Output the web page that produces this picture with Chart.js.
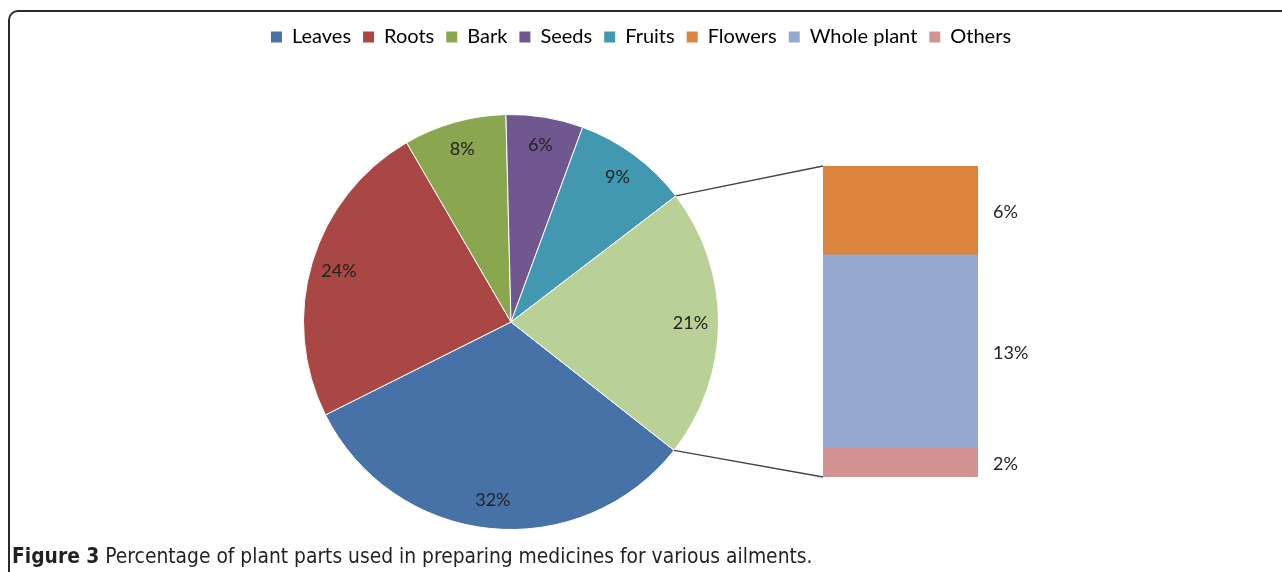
<!DOCTYPE html>
<html>
<head>
<meta charset="utf-8">
<script src="https://cdn.jsdelivr.net/npm/chart.js@4.4.1/dist/chart.umd.min.js"></script>
<style>
    html, body { margin: 0; padding: 0; background: #fff; }
    #wrap { position: relative; width: 1282px; height: 572px; overflow: hidden; }
    #frame {
        position: absolute; left: 8px; top: 10px; width: 1400px; height: 700px;
        border-left: 2px solid #2a2a2a; border-top: 2px solid #2a2a2a;
        border-top-left-radius: 10px;
    }
    canvas { position: absolute; left: 0; top: 0; }
    #caption {
        position: absolute; left: 12px; top: 544px;
        font-family: "Liberation Sans Narrow", "DejaVu Sans Condensed", sans-serif;
        font-size: 20.8px; color: #231f20; white-space: nowrap;
    }
    #caption b { font-weight: bold; }
</style>
</head>
<body>
<div id="wrap">
    <div id="frame"></div>
    <canvas id="pieChart" width="1282" height="572"></canvas>
    <canvas id="barChart" width="1282" height="572"></canvas>
    <div id="caption"><b>Figure 3</b> Percentage of plant parts used in preparing medicines for various ailments.</div>
</div>
<script>
// main pie
const pieLabels = ["Leaves", "Roots", "Bark", "Seeds", "Fruits", "Others (combined)"];
const pieValues = [32, 24, 8, 6, 9, 21];
const pieColors = ["#4672A8", "#A94744", "#8AA64E", "#71578F", "#4298B0", "#B9D097"];

// bar split of the combined slice (top to bottom)
const barLabels = ["Flowers", "Whole plant", "Others"];
const barValues = [6, 13, 2];
const barColors = ["#DC843D", "#95A9D0", "#D39393"];

const legendNames = ["Leaves", "Roots", "Bark", "Seeds", "Fruits", "Flowers", "Whole plant", "Others"];
const legendColors = [...pieColors.slice(0, 5), ...barColors];

const FONT = "Lato, 'Open Sans', sans-serif";

// put the pie where it sits in the figure (left of the bar)
const pieSpot = {
    id: "pieSpot",
    afterLayout(chart) {
        const a = chart.chartArea;
        a.left = 303; a.right = 719; a.top = 114; a.bottom = 530;
        a.width = a.right - a.left; a.height = a.bottom - a.top;
    },
};

const pieText = {
    id: "pieText",
    afterDatasetsDraw(chart) {
        const ctx = chart.ctx;
        const meta = chart.getDatasetMeta(0);
        ctx.save();
        ctx.font = "18px " + FONT;
        ctx.fillStyle = "#222";
        ctx.textAlign = "center";
        ctx.textBaseline = "middle";
        meta.data.forEach((arc, i) => {
            const p = arc.getProps(["x", "y", "startAngle", "endAngle", "outerRadius"], true);
            const mid = (p.startAngle + p.endAngle) / 2;
            const r = p.outerRadius * 0.865;
            ctx.fillText(pieValues[i] + "%", p.x + Math.cos(mid) * r, p.y + Math.sin(mid) * r);
        });
        ctx.restore();
    },
};

const pieChart = new Chart(document.getElementById("pieChart"), {
    type: "pie",
    data: {
        labels: pieLabels,
        datasets: [{
            data: pieValues,
            backgroundColor: pieColors,
            borderColor: "#fff",
            borderWidth: 1,
        }],
    },
    options: {
        responsive: false,
        animation: false,
        rotation: 128.2,
        layout: { padding: { top: 15 } },
        plugins: {
            tooltip: { enabled: false },
            legend: {
                display: true,
                position: "top",
                labels: {
                    font: { family: FONT, size: 20 },
                    color: "#222",
                    boxWidth: 11,
                    boxHeight: 11,
                    padding: 12,
                    generateLabels: () => legendNames.map((n, i) => ({
                        text: n,
                        fillStyle: legendColors[i],
                        strokeStyle: legendColors[i],
                        lineWidth: 0,
                        hidden: false,
                        index: i,
                    })),
                },
            },
        },
    },
    plugins: [pieSpot, pieText],
});

// connector lines + bar value labels
const barExtras = {
    id: "barExtras",
    afterDatasetsDraw(chart) {
        const ctx = chart.ctx;
        const green = pieChart.getDatasetMeta(0).data[5];
        const g = green.getProps(["x", "y", "startAngle", "endAngle", "outerRadius"], true);
        const top = chart.scales.y.getPixelForValue(barValues.reduce((s, v) => s + v, 0));
        const bottom = chart.scales.y.getPixelForValue(0);
        const bar0 = chart.getDatasetMeta(0).data[0];
        const left = bar0.x - bar0.width / 2;
        const right = bar0.x + bar0.width / 2;

        ctx.save();
        ctx.strokeStyle = "#444";
        ctx.lineWidth = 1.3;
        ctx.beginPath();
        ctx.moveTo(g.x + Math.cos(g.startAngle) * g.outerRadius, g.y + Math.sin(g.startAngle) * g.outerRadius);
        ctx.lineTo(left, top);
        ctx.moveTo(g.x + Math.cos(g.endAngle) * g.outerRadius, g.y + Math.sin(g.endAngle) * g.outerRadius);
        ctx.lineTo(left, bottom);
        ctx.stroke();

        ctx.font = "18px " + FONT;
        ctx.fillStyle = "#222";
        ctx.textAlign = "left";
        ctx.textBaseline = "middle";
        chart.data.datasets.forEach((ds, i) => {
            const el = chart.getDatasetMeta(i).data[0];
            ctx.fillText(ds.data[0] + "%", right + 15, (el.y + el.base) / 2 + 2);
        });
        ctx.restore();
    },
};

new Chart(document.getElementById("barChart"), {
    type: "bar",
    data: {
        labels: [""],
        datasets: barLabels.map((name, i) => ({
            label: name,
            data: [barValues[i]],
            backgroundColor: barColors[i],
            borderWidth: 0,
            categoryPercentage: 1,
            barPercentage: 1,
        })).reverse(),
    },
    options: {
        responsive: false,
        animation: false,
        layout: { padding: { left: 823, right: 304, top: 166, bottom: 95 } },
        scales: {
            x: { display: false, stacked: true },
            y: { display: false, stacked: true, min: 0, max: 21 },
        },
        plugins: { legend: { display: false }, tooltip: { enabled: false } },
    },
    plugins: [barExtras],
});
</script>
</body>
</html>
